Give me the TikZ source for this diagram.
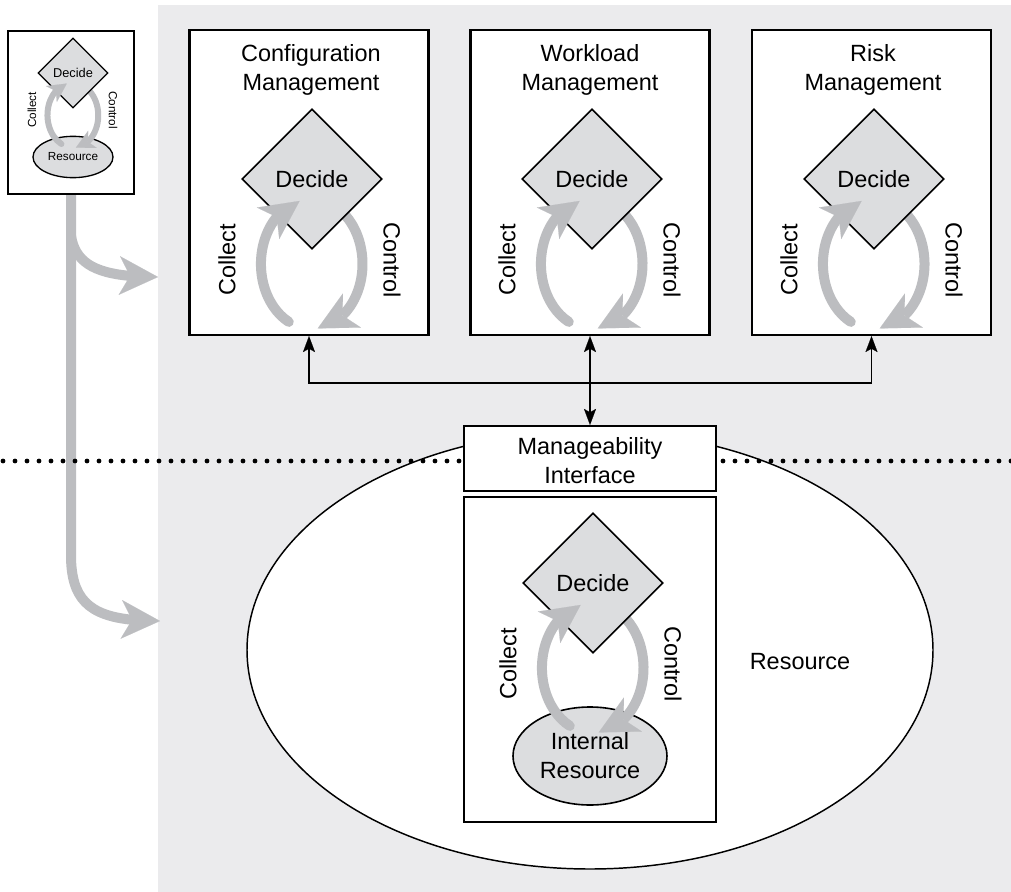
\documentclass[tikz,border=0pt]{standalone}
\usepackage{fontspec}
\setmainfont{Liberation Sans}
\usetikzlibrary{arrows.meta,bending,shapes.geometric}
\definecolor{panel}{HTML}{EBEBED}
\definecolor{band}{HTML}{BCBDC0}
\definecolor{shade}{HTML}{DCDDDF}
\newcommand\lgtxt{\fontsize{17.6}{21.75}\selectfont}
\newcommand\smtxt{\fontsize{8.8}{10.5}\selectfont}

\tikzset{
  % large decide / collect / control cycle, placed at the diamond centre
  pics/bigcycle/.style={code={
    \draw[bandbig] (25,28.6) arc[start angle=-60,end angle=83,x radius=51,y radius=65];
    \node[decbig] (-d) at (0,0) {Decide};
    \draw[bandbig,line cap=round] (-23.2,142.9) arc[start angle=117,end angle=256,x radius=51,y radius=65];
    \node[lbl,rotate=90] (-col) at (-85,81) {Collect};
    \node[lbl,rotate=-90] (-ctl) at (80,81) {Control};
  }},
  % small version of the same cycle
  pics/smallcycle/.style={code={
    \draw[bandsmall] (12.5,14.3) arc[start angle=-60,end angle=83,x radius=25.5,y radius=32.5];
    \node[decsmall] (-d) at (0,0) {Decide};
    \draw[bandsmall,line cap=round] (-11.6,71) arc[start angle=117,end angle=256,x radius=25.5,y radius=32.5];
    \node[slbl,rotate=90] (-col) at (-41,37) {Collect};
    \node[slbl,rotate=-90] (-ctl) at (40,37) {Control};
  }}
}

\begin{document}
\begin{tikzpicture}[x=0.75pt,y=-0.75pt,
  frame/.style={draw,line width=1.6pt,fill=white,inner sep=0pt},
  lbl/.style={font=\lgtxt,inner sep=0pt,align=center},
  slbl/.style={font=\smtxt,inner sep=0pt},
  decbig/.style={diamond,draw,line width=1.2pt,fill=shade,minimum width=105pt,minimum height=105pt,inner sep=0pt,font=\lgtxt},
  decsmall/.style={diamond,draw,line width=1pt,fill=shade,minimum width=52.5pt,minimum height=52.5pt,inner sep=0pt,font=\fontsize{9.6}{11}\selectfont},
  bandbig/.style={draw=band,line width=7.5pt,-{Stealth[length=29pt,width=29pt,inset=8pt,line width=0.1pt]}},
  bandsmall/.style={draw=band,line width=4.5pt,-{Stealth[length=14pt,width=14.5pt,inset=4pt,line width=0.1pt]}},
  feed/.style={draw=band,line width=7.5pt,-{Stealth[length=29pt,width=29pt,inset=8pt,line width=0.1pt]}},
  link/.style={draw,line width=1.3pt,{Stealth[length=12pt,width=9pt,inset=2.5pt,line width=0.1pt]}-{Stealth[length=12pt,width=9pt,inset=2.5pt,line width=0.1pt]}},
  dots/.style={line width=3.6pt,line cap=round,dash pattern=on 0pt off 9pt},
]
% page and shaded panel
\path[use as bounding box,fill=white] (0,0) rectangle (1011,892);
\fill[panel] (158,5) rectangle (1011,892);

% small overview box
\node[frame,minimum width=94.5pt,minimum height=122.25pt] (mini) at (71,112.5) {};
\node[ellipse,draw,line width=1pt,fill=shade,minimum width=60pt,minimum height=31pt,inner sep=0pt,font=\smtxt] (minires) at (73,157) {Resource};
\pic (minic) at (73,73) {smallcycle};

% feeds from the overview into the two levels
\coordinate (feedA) at (158,277);
\coordinate (feedB) at (160,621);
\draw[feed] (mini.south) -- (71,555) .. controls (71,606) and (95,621) .. (feedB);
\draw[feed] (71,236) .. controls (76,266) and (100,277) .. (feedA);

% resource ellipse and the level separator
\node[ellipse,draw,line width=1.1pt,fill=white,minimum width=514.5pt,minimum height=328.5pt,inner sep=0pt] (res) at (590,650) {};
\node[lbl] (reslbl) at (800,662) {Resource};
\coordinate (dotL) at (3,461);
\coordinate (dotR) at (1011,461);
\draw[dots] (dotL) -- (dotR);

% manageability interface and internal loop
\node[frame,minimum width=189pt,minimum height=48.75pt] (mi) at (590,458.5) {};
\node[lbl] (mit) at (590,461) {Manageability\\Interface};
\node[frame,minimum width=189pt,minimum height=243.75pt] (inner) at (590,659.5) {};
\node[ellipse,draw,line width=1.2pt,fill=shade,minimum width=115.5pt,minimum height=73.5pt,inner sep=0pt,font=\lgtxt,align=center] (ires) at (590,756) {Internal\\Resource};
\pic (ic) at (593,583) {bigcycle};

% management disciplines
\node[frame,minimum width=179.25pt,minimum height=228.75pt] (cfgbox) at (309,182.5) {};
\node[frame,minimum width=179.25pt,minimum height=228.75pt] (wlbox) at (590,182.5) {};
\node[frame,minimum width=179.25pt,minimum height=228.75pt] (riskbox) at (871.5,182.5) {};
\node[lbl] (cfgt) at (311,70) {Configuration\\Management};
\node[lbl] (wlt) at (590,70) {Workload\\Management};
\node[lbl] (riskt) at (873,70) {Risk\\Management};
\pic (cfg) at (312,179) {bigcycle};
\pic (wl) at (592,179) {bigcycle};
\pic (risk) at (874,179) {bigcycle};

% links between disciplines and the interface
\coordinate (bus) at (590,383);
\draw[link] (cfgbox.south) |- (bus) -| (riskbox.south);
\draw[link] (wlbox.south) -- (mi.north);
\end{tikzpicture}
\end{document}
